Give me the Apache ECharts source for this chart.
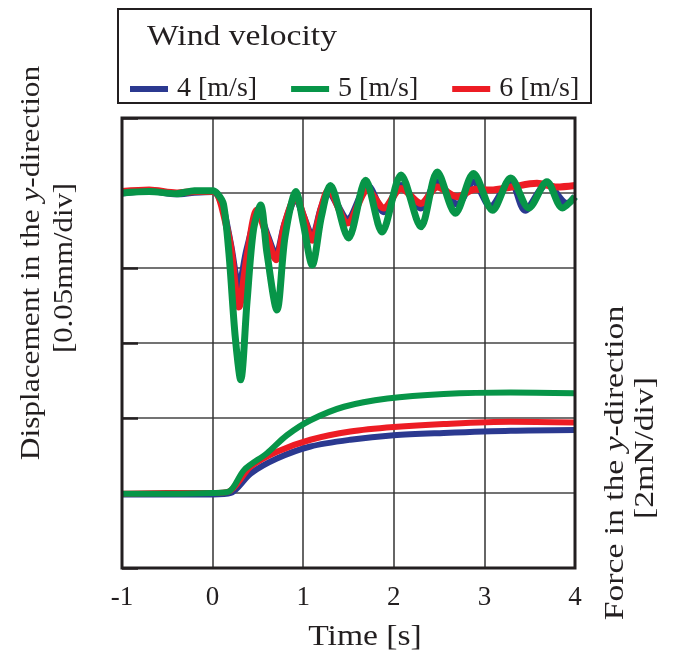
<!DOCTYPE html>
<html>
<head>
<meta charset="utf-8">
<script src="https://cdn.jsdelivr.net/npm/echarts@6/dist/echarts.min.js"></script>
<style>html,body{margin:0;padding:0;background:#fff}#c{width:675px;height:657px}</style>
</head>
<body>
<div id="c"></div>
<script>
// ---- data (y in divisions; 0..6 from bottom of plot) ----
const seriesNames = ['4 [m/s]', '5 [m/s]', '6 [m/s]'];
const timeMin = -1, timeMax = 4;

// Displacement in y-direction
const tDisp4 = [-1,-0.7,-0.4,-0.2,0,0.06,0.12,0.2,0.29,0.38,0.51,0.6,0.70,0.8,0.92,1.0,1.10,1.2,1.28,1.49,1.71,1.89,2.08,2.30,2.48,2.70,2.88,3.07,3.29,3.45,3.69,3.91,4.0];
const disp4  = [5.0,5.03,4.99,5.01,5.02,4.97,4.78,4.3,3.75,4.25,4.73,4.45,4.17,4.6,4.93,4.7,4.42,4.8,5.0,4.65,5.1,4.75,5.1,4.8,5.15,4.85,5.15,4.82,5.17,4.77,5.12,4.86,4.95];

const tDisp5 = [-1,-0.7,-0.4,-0.2,0,0.06,0.12,0.18,0.25,0.31,0.38,0.45,0.53,0.6,0.71,0.8,0.92,1.0,1.10,1.2,1.30,1.5,1.69,1.87,2.08,2.30,2.48,2.68,2.88,3.09,3.29,3.49,3.69,3.86,4.0];
const disp5  = [5.0,5.02,4.99,5.03,5.03,4.98,4.85,4.2,3.08,2.51,3.55,4.5,4.84,4.2,3.44,4.42,5.02,4.6,4.04,4.68,5.1,4.40,5.17,4.48,5.24,4.55,5.28,4.73,5.26,4.77,5.2,4.80,5.15,4.80,4.95];

const tDisp6 = [-1,-0.7,-0.4,-0.2,0,0.06,0.12,0.2,0.29,0.38,0.49,0.6,0.70,0.8,0.92,1.0,1.10,1.2,1.28,1.49,1.71,1.89,2.08,2.30,2.48,2.70,2.9,3.07,3.3,3.58,3.8,4.0];
const disp6  = [5.02,5.04,5.0,5.02,5.02,4.97,4.73,4.28,3.48,4.15,4.77,4.42,4.11,4.6,4.95,4.7,4.37,4.8,5.04,4.6,5.04,4.80,5.06,4.86,5.08,4.95,5.05,5.04,5.08,5.13,5.08,5.1];

// Force in y-direction
const tForce4 = [-1,-0.5,0,0.2,0.42,0.71,1.08,1.52,2.0,2.55,3.29,4.0];
const force4  = [0.98,0.98,0.98,1.0,1.26,1.46,1.62,1.71,1.77,1.80,1.83,1.84];
const tForce5 = [-1,-0.5,0,0.18,0.35,0.6,0.82,1.08,1.45,1.93,2.55,3.29,4.0];
const force5  = [0.99,0.99,1.0,1.02,1.31,1.53,1.77,1.97,2.15,2.26,2.32,2.34,2.33];
const tForce6 = [-1,-0.5,0,0.18,0.42,0.71,1.08,1.52,2.0,2.55,3.29,4.0];
const force6  = [0.99,1.0,1.0,1.02,1.35,1.55,1.71,1.82,1.88,1.92,1.95,1.94];

const colors = { '4 [m/s]': '#2b3990', '5 [m/s]': '#079548', '6 [m/s]': '#ed1c24' };
const FONT = '"Liberation Serif", "Times New Roman", serif';

function pairs(t, v) { return t.map((x, i) => [x, v[i]]); }
function mk(name, t, v, w) {
  return {
    name, type: 'line', data: pairs(t, v), showSymbol: false, smooth: 0.3,
    lineStyle: { color: colors[name], width: w }, itemStyle: { color: colors[name] }, z: 3
  };
}

const chart = echarts.init(document.getElementById('c'), null, { renderer: 'canvas' });
const rich = (fs) => ({ i: { fontStyle: 'italic', fontSize: fs, fontFamily: FONT, fill: '#231f20' } });

chart.setOption({
  animation: false,
  textStyle: { fontFamily: FONT },
  grid: { left: 122, right: 100, top: 118, bottom: 89, show: true, borderColor: '#231f20', borderWidth: 3, z: 5 },
  xAxis: {
    type: 'value', min: timeMin, max: timeMax, interval: 1,
    axisLine: { show: false, onZero: false }, axisTick: { show: false },
    axisLabel: { fontSize: 27, color: '#231f20', fontFamily: FONT, margin: 16 },
    splitLine: { lineStyle: { color: '#333', width: 1.5 } }
  },
  yAxis: {
    type: 'value', min: 0, max: 6, interval: 1,
    axisLine: { show: false, onZero: false },
    axisTick: { show: true, inside: true, length: 16, lineStyle: { color: '#231f20', width: 2.5 } },
    axisLabel: { show: false },
    splitLine: { lineStyle: { color: '#444', width: 1.5 } }
  },
  legend: {
    data: seriesNames, left: 125, top: 70, itemWidth: 38, itemHeight: 6, icon: 'rect', itemGap: 34,
    textStyle: { fontSize: 28, color: '#231f20', fontFamily: FONT, padding: [0, 0, 0, 4] }
  },
  graphic: [
    { type: 'rect', shape: { x: 118, y: 9, width: 473, height: 94 }, style: { fill: 'none', stroke: '#231f20', lineWidth: 2 }, z: 10 },
    { type: 'text', x: 147, y: 37, scaleX: 1.12, style: { text: 'Wind velocity', fontSize: 30, fontFamily: FONT, fill: '#231f20', textAlign: 'left', textVerticalAlign: 'middle' }, z: 10 },
    { type: 'text', x: 32, y: 263, rotation: Math.PI / 2, scaleX: 1.12,
      style: { text: 'Displacement in the {i|y}-direction', rich: rich(28), fontSize: 28, fontFamily: FONT, fill: '#231f20', textAlign: 'center', textVerticalAlign: 'middle' }, z: 10 },
    { type: 'text', x: 65, y: 268, rotation: Math.PI / 2, scaleX: 1.1,
      style: { text: '[0.05mm/div]', fontSize: 28, fontFamily: FONT, fill: '#231f20', textAlign: 'center', textVerticalAlign: 'middle' }, z: 10 },
    { type: 'text', x: 616, y: 463, rotation: Math.PI / 2, scaleX: 1.2,
      style: { text: 'Force in the {i|y}-direction', rich: rich(28), fontSize: 28, fontFamily: FONT, fill: '#231f20', textAlign: 'center', textVerticalAlign: 'middle' }, z: 10 },
    { type: 'text', x: 646, y: 448, rotation: Math.PI / 2, scaleX: 1.2,
      style: { text: '[2mN/div]', fontSize: 28, fontFamily: FONT, fill: '#231f20', textAlign: 'center', textVerticalAlign: 'middle' }, z: 10 },
    { type: 'text', x: 365, y: 637, scaleX: 1.12, style: { text: 'Time [s]', fontSize: 30, fontFamily: FONT, fill: '#231f20', textAlign: 'center', textVerticalAlign: 'middle' }, z: 10 }
  ],
  series: [
    mk('4 [m/s]', tForce4, force4, 6),
    mk('6 [m/s]', tForce6, force6, 6),
    mk('5 [m/s]', tForce5, force5, 6),
    mk('4 [m/s]', tDisp4, disp4, 7),
    mk('6 [m/s]', tDisp6, disp6, 7),
    mk('5 [m/s]', tDisp5, disp5, 7)
  ]
});
</script>
</body>
</html>
